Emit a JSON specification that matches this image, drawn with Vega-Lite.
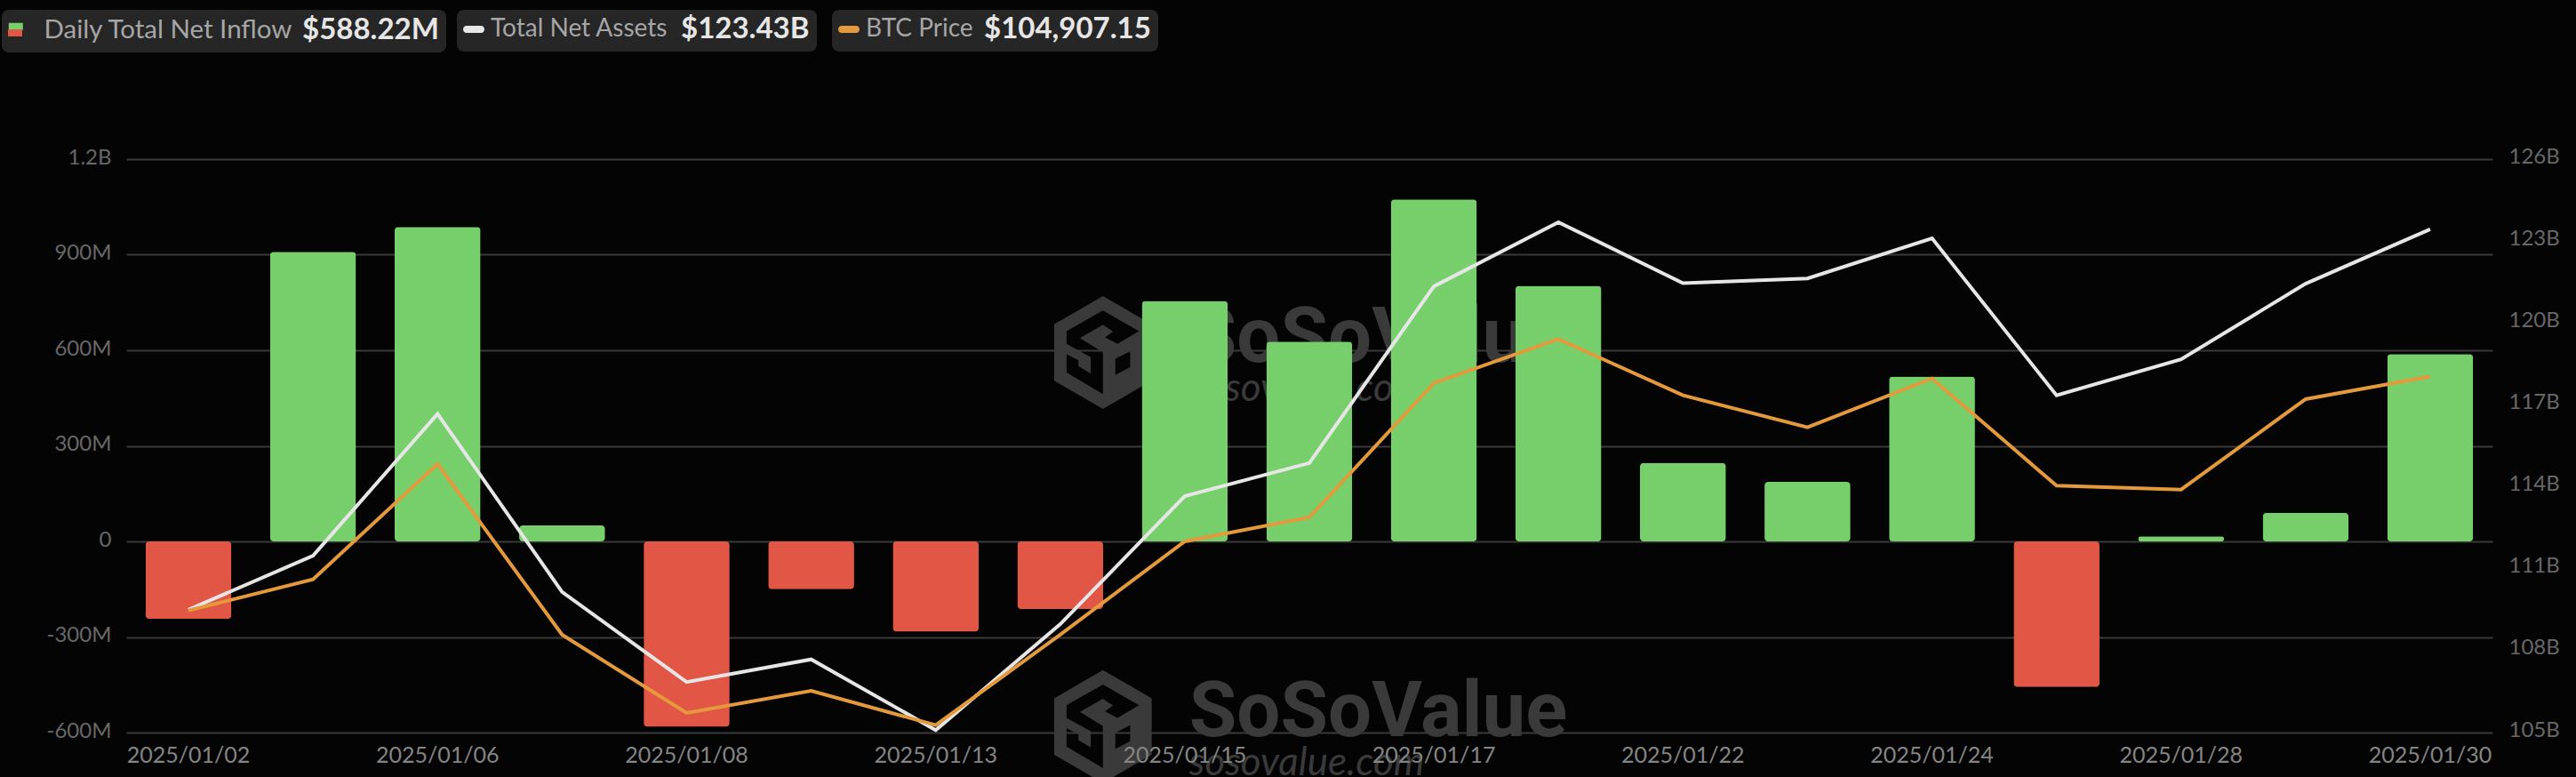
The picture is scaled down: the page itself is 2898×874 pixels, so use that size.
{
  "$schema": "https://vega.github.io/schema/vega-lite/v6.json",
  "width": 2662,
  "height": 645,
  "padding": {"left": 142, "top": 179, "right": 94, "bottom": 50},
  "autosize": {"type": "none"},
  "background": "#040404",
  "config": {
    "view": {"stroke": null},
    "axis": {"domain": false, "ticks": false, "title": null, "labelFont": "Lato", "labelFontSize": 24, "labelColor": "#686868", "gridColor": "#3a3a3a", "gridWidth": 2},
    "legend": {"orient": "none", "direction": "horizontal", "labelFont": "Lato", "labelFontSize": 28, "labelLimit": 400, "labelColor": "#a6a6a6", "titleFont": "Lato", "titleFontSize": 33, "titleFontWeight": 700, "titleLimit": 400, "titleColor": "#e6e6e6", "titleOrient": "right", "titleAnchor": "middle", "titleBaseline": "middle", "titlePadding": 10, "fillColor": "#262626", "cornerRadius": 8, "padding": 8, "legendY": -168, "symbolStrokeWidth": 0}
  },
  "datasets": {
    "flows": [
      {"date": "2025/01/02", "flow": -243, "assets": 109.5, "btc": 97922},
      {"date": "2025/01/03", "flow": 909, "assets": 111.48, "btc": 98851},
      {"date": "2025/01/06", "flow": 987, "assets": 116.67, "btc": 102302},
      {"date": "2025/01/07", "flow": 50, "assets": 110.15, "btc": 97197},
      {"date": "2025/01/08", "flow": -582, "assets": 106.85, "btc": 94861},
      {"date": "2025/01/10", "flow": -150, "assets": 107.68, "btc": 95524},
      {"date": "2025/01/13", "flow": -283, "assets": 105.09, "btc": 94497},
      {"date": "2025/01/14", "flow": -212, "assets": 108.97, "btc": 97197},
      {"date": "2025/01/15", "flow": 755, "assets": 113.66, "btc": 99985},
      {"date": "2025/01/16", "flow": 627, "assets": 114.87, "btc": 100701},
      {"date": "2025/01/17", "flow": 1074, "assets": 121.34, "btc": 104711},
      {"date": "2025/01/21", "flow": 802, "assets": 123.69, "btc": 106027},
      {"date": "2025/01/22", "flow": 246, "assets": 121.46, "btc": 104347},
      {"date": "2025/01/23", "flow": 187, "assets": 121.63, "btc": 103391},
      {"date": "2025/01/24", "flow": 518, "assets": 123.1, "btc": 104851},
      {"date": "2025/01/27", "flow": -457, "assets": 117.35, "btc": 101649},
      {"date": "2025/01/28", "flow": 16, "assets": 118.67, "btc": 101533},
      {"date": "2025/01/29", "flow": 89, "assets": 121.44, "btc": 104233},
      {"date": "2025/01/30", "flow": 588.22, "assets": 123.43, "btc": 104907.15}
    ],
    "logos": [
      {"date": "2025/01/14", "flow": 593},
      {"date": "2025/01/14", "flow": -581}
    ],
    "brand": [
      {"date": "2025/01/14", "flow": 563, "text": "SoSoValue"},
      {"date": "2025/01/14", "flow": -612, "text": "SoSoValue"}
    ],
    "site": [
      {"date": "2025/01/14", "flow": 441, "text": "sosovalue.com"},
      {"date": "2025/01/14", "flow": -734, "text": "sosovalue.com"}
    ]
  },
  "data": {"name": "flows"},
  "encoding": {
    "x": {
      "field": "date",
      "type": "ordinal",
      "scale": {
        "type": "band",
        "paddingInner": 0,
        "paddingOuter": 0,
        "domain": ["2025/01/02", "2025/01/03", "2025/01/06", "2025/01/07", "2025/01/08", "2025/01/10", "2025/01/13", "2025/01/14", "2025/01/15", "2025/01/16", "2025/01/17", "2025/01/21", "2025/01/22", "2025/01/23", "2025/01/24", "2025/01/27", "2025/01/28", "2025/01/29", "2025/01/30"]
      },
      "axis": {
        "values": ["2025/01/02", "2025/01/06", "2025/01/08", "2025/01/13", "2025/01/15", "2025/01/17", "2025/01/22", "2025/01/24", "2025/01/28", "2025/01/30"],
        "labelAngle": 0,
        "labelFontSize": 25,
        "labelColor": "#858585",
        "labelPadding": 13,
        "labelOverlap": false,
        "zindex": 1
      }
    }
  },
  "layer": [
    {
      "data": {"name": "logos"},
      "mark": {
        "type": "point",
        "filled": true,
        "opacity": 1,
        "color": "#3a3a3a",
        "size": 16129,
        "xOffset": 48,
        "shape": "M0,-1L.864,-.5L.864,.5L0,1L-.864,.5L-.864,-.5ZM0,-.743L-.644,-.377L-.644,-.152L-.215,.084L-.215,.372L-.435,.241L-.435,.136L-.644,.031L-.644,.356L0,.738L0,-.005L-.408,-.257L0,-.492L.178,-.372L.037,-.267L.257,-.152L.639,-.377ZM.22,.11L.22,.398L.482,.26L.482,-.021Z"
      },
      "encoding": {
        "y": {"field": "flow", "type": "quantitative", "scale": {"domain": [-600, 1200]}, "axis": null}
      }
    },
    {
      "data": {"name": "brand"},
      "mark": {"type": "text", "align": "left", "baseline": "alphabetic", "font": "Roboto", "fontWeight": 700, "fontSize": 87, "color": "#3a3a3a", "xOffset": 145},
      "encoding": {
        "y": {"field": "flow", "type": "quantitative", "scale": {"domain": [-600, 1200]}, "axis": null},
        "text": {"field": "text"}
      }
    },
    {
      "data": {"name": "site"},
      "mark": {"type": "text", "align": "left", "baseline": "alphabetic", "font": "Lato", "fontStyle": "italic", "fontSize": 44, "color": "#3a3a3a", "xOffset": 145},
      "encoding": {
        "y": {"field": "flow", "type": "quantitative", "scale": {"domain": [-600, 1200]}, "axis": null},
        "text": {"field": "text"}
      }
    },
    {
      "transform": [{"filter": "datum.flow > 0"}],
      "mark": {"type": "bar", "width": {"band": 0.69}, "cornerRadius": 4},
      "encoding": {
        "y": {
          "field": "flow",
          "type": "quantitative",
          "scale": {"domain": [-600, 1200]},
          "axis": {
            "values": [-600, -300, 0, 300, 600, 900, 1200],
            "grid": true,
            "labelPadding": 17,
            "labelOffset": -2,
            "labelExpr": "datum.value === 0 ? '0' : datum.value >= 1000 ? datum.value / 1000 + 'B' : datum.value + 'M'"
          }
        },
        "color": {
          "datum": "Daily Total Net Inflow",
          "scale": {"domain": ["Daily Total Net Inflow"], "range": ["#76cf6b"]},
          "legend": {"title": "$588.22M", "legendX": -140, "symbolType": "M-1,-1H1V0H-1Z", "symbolSize": 256, "symbolOffset": -7, "labelOffset": 17, "labelFontSize": 29.5}
        }
      }
    },
    {
      "transform": [{"filter": "datum.flow < 0"}],
      "mark": {"type": "bar", "width": {"band": 0.69}, "cornerRadius": 4},
      "encoding": {
        "y": {"field": "flow", "type": "quantitative", "scale": {"domain": [-600, 1200]}, "axis": null},
        "color": {
          "datum": "Outflow",
          "scale": {"domain": ["Outflow"], "range": ["#e25646"]},
          "legend": {"title": null, "legendX": -140, "symbolType": "M-1,0H1V1H-1Z", "symbolSize": 256, "symbolOffset": -7, "labelExpr": "''", "fillColor": "transparent"}
        }
      }
    },
    {
      "mark": {"type": "line", "strokeWidth": 4},
      "encoding": {
        "y": {"field": "assets", "type": "quantitative", "scale": {"domain": [105, 126]}, "axis": {"orient": "right", "values": [105, 108, 111, 114, 117, 120, 123, 126], "grid": false, "labelPadding": 18, "labelOffset": -3, "labelExpr": "datum.value + 'B'"}},
        "color": {
          "datum": "Total Net Assets",
          "scale": {"domain": ["Total Net Assets"], "range": ["#e6e6e6"]},
          "legend": {"title": "$123.43B", "legendX": 372, "titlePadding": 15, "symbolType": "M-.7,-.33H.7A.3,.33 0 0 1 .7,.33H-.7A.3,.33 0 0 1 -.7,-.33Z", "symbolSize": 576, "symbolOffset": -3, "symbolFillColor": "#e6e6e6", "labelOffset": 5}
        }
      }
    },
    {
      "mark": {"type": "line", "strokeWidth": 4},
      "encoding": {
        "y": {"field": "btc", "type": "quantitative", "scale": {"domain": [94276, 111401]}, "axis": null},
        "color": {
          "datum": "BTC Price",
          "scale": {"domain": ["BTC Price"], "range": ["#e49a3c"]},
          "legend": {"title": "$104,907.15", "legendX": 794, "titlePadding": 12, "symbolType": "M-.7,-.33H.7A.3,.33 0 0 1 .7,.33H-.7A.3,.33 0 0 1 -.7,-.33Z", "symbolSize": 576, "symbolOffset": -3, "symbolFillColor": "#e49a3c", "labelOffset": 5}
        }
      }
    }
  ],
  "resolve": {"scale": {"y": "independent", "color": "independent"}}
}
